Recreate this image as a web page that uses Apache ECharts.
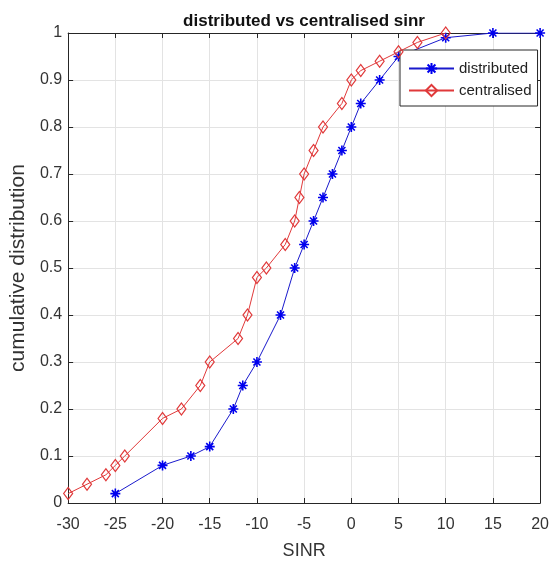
<!DOCTYPE html>
<html>
<head>
<meta charset="utf-8">
<script src="https://cdn.jsdelivr.net/npm/echarts@6/dist/echarts.min.js"></script>
<style>
  html, body { margin: 0; padding: 0; background: #fff; }
  #chart { width: 552px; height: 565px; }
</style>
</head>
<body>
<div id="chart"></div>
<script>
/*
* data
*/
var distX = [-25, -20, -17, -15, -12.5, -11.5, -10, -7.5, -6, -5, -4, -3, -2, -1, 0, 1, 3, 5, 10, 15, 20];
var distY = [0.02, 0.08, 0.10, 0.12, 0.20, 0.25, 0.30, 0.40, 0.50, 0.55, 0.60, 0.65, 0.70, 0.75, 0.80, 0.85, 0.90, 0.95, 0.99, 1.00, 1.00];
var centX = [-30, -28, -26, -25, -24, -20, -18, -16, -15, -12, -11, -10, -9, -7, -6, -5.5, -5, -4, -3, -1, 0, 1, 3, 5, 7, 10];
var centY = [0.02, 0.04, 0.06, 0.08, 0.10, 0.18, 0.20, 0.25, 0.30, 0.35, 0.40, 0.48, 0.50, 0.55, 0.60, 0.65, 0.70, 0.75, 0.80, 0.85, 0.90, 0.92, 0.94, 0.96, 0.98, 1.00];

function pairs(xs, ys) {
	var out = [];
	for (var i = 0; i < xs.length; i++) out.push([xs[i], ys[i]]);
	return out;
}

var axisCol = '#262626';
var gridCol = '#e3e3e3';
var fontFam = '"Liberation Sans", Arial, sans-serif';
// asterisk marker, drawn by the stroke only
var starPath = 'path://M0 5L10 5M5 0L5 10M1.5 1.5L8.5 8.5M8.5 1.5L1.5 8.5';

// top / right box edges with inward ticks, no labels
function boxAxis(pos, isX) {
	return {
		type: 'value',
		position: pos,
		min: isX ? -30 : 0,
		max: isX ? 20 : 1,
		interval: isX ? 5 : 0.1,
		axisLine: { show: true, onZero: false, lineStyle: { color: axisCol, width: 1 } },
		axisTick: { show: true, inside: true, length: 5, lineStyle: { color: axisCol } },
		axisLabel: { show: false },
		splitLine: { show: false }
	};
}

var option = {
	backgroundColor: '#fff',
	animation: false,
	title: {
		text: 'distributed vs centralised sinr',
		left: 299,
		textAlign: 'center',
		top: 8,
		textStyle: { fontFamily: fontFam, fontSize: 17, fontWeight: 'bold', color: '#111' }
	},
	legend: {
		orient: 'vertical',
		left: 400,
		top: 50,
		padding: [11, 6, 8, 8],
		itemGap: 7,
		itemWidth: 45,
		itemHeight: 14,
		backgroundColor: '#fff',
		borderColor: axisCol,
		borderWidth: 1,
		borderRadius: 0,
		textStyle: { fontFamily: fontFam, fontSize: 15, color: '#222' },
		data: ['distributed', 'centralised']
	},
	grid: { left: 54, right: 6, top: 33, bottom: 62, containLabel: false },
	xAxis: [
		{
			type: 'value',
			position: 'bottom',
			min: -30,
			max: 20,
			interval: 5,
			name: 'SINR',
			nameLocation: 'middle',
			nameGap: 39,
			nameTextStyle: { fontFamily: fontFam, fontSize: 18, color: '#333' },
			axisLine: { show: true, onZero: false, lineStyle: { color: axisCol, width: 1 } },
			axisTick: { show: true, inside: true, length: 5, lineStyle: { color: axisCol } },
			axisLabel: { fontFamily: fontFam, fontSize: 16, color: '#333', margin: 14 },
			splitLine: { show: true, lineStyle: { color: gridCol, width: 1 } }
		},
		boxAxis('top', true)
	],
	yAxis: [
		{
			type: 'value',
			position: 'left',
			min: 0,
			max: 1,
			interval: 0.1,
			name: 'cumulative distribution',
			nameLocation: 'middle',
			nameGap: 33,
			nameTextStyle: { fontFamily: fontFam, fontSize: 21, color: '#333' },
			axisLine: { show: true, onZero: false, lineStyle: { color: axisCol, width: 1 } },
			axisTick: { show: true, inside: true, length: 5, lineStyle: { color: axisCol } },
			axisLabel: { fontFamily: fontFam, fontSize: 16, color: '#333', margin: 6 },
			splitLine: { show: true, lineStyle: { color: gridCol, width: 1 } }
		},
		boxAxis('right', false)
	],
	series: [
		{
			name: 'distributed',
			type: 'line',
			xAxisIndex: 0,
			yAxisIndex: 0,
			data: pairs(distX, distY),
			symbol: starPath,
			symbolSize: 10,
			showAllSymbol: true,
			lineStyle: { color: '#1a1acc', width: 1 },
			itemStyle: { color: 'rgba(0,0,0,0)', borderColor: '#0000ee', borderWidth: 1.6 },
			z: 3
		},
		{
			name: 'centralised',
			type: 'line',
			xAxisIndex: 0,
			yAxisIndex: 0,
			data: pairs(centX, centY),
			symbol: 'diamond',
			symbolSize: [9, 12],
			showAllSymbol: true,
			lineStyle: { color: '#e0393a', width: 1 },
			itemStyle: { color: 'rgba(0,0,0,0)', borderColor: '#e0393a', borderWidth: 1.2 },
			z: 4
		}
	]
};

var myChart = echarts.init(document.getElementById('chart'));
myChart.setOption(option);
</script>
</body>
</html>
